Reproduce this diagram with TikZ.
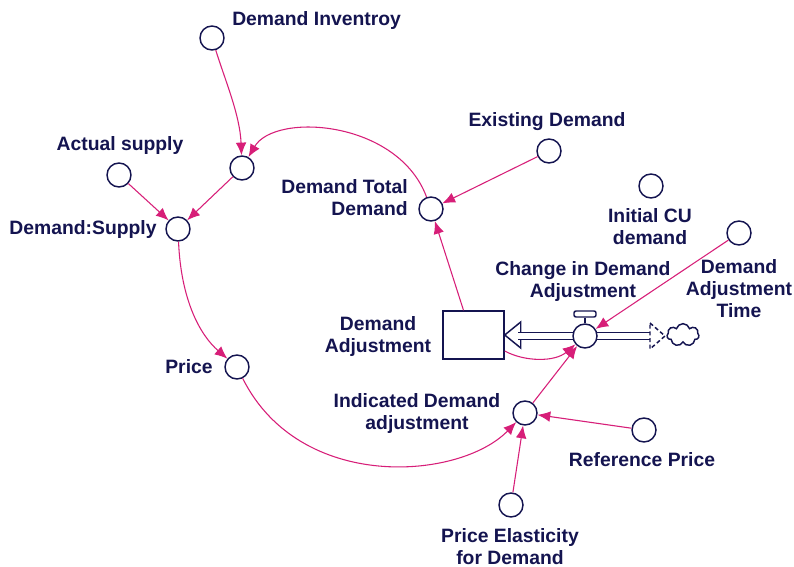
\documentclass[tikz,border=0pt]{standalone}
\usepackage{fontspec}
\setmainfont{Liberation Sans}
\usetikzlibrary{shapes.symbols,arrows.meta}
\definecolor{navy}{RGB}{20,20,80}
\definecolor{lnk}{RGB}{215,30,120}
\begin{document}
\begin{tikzpicture}[x=0.75pt,y=-0.75pt,
  aux/.style={circle,draw=navy,line width=1.1pt,fill=white,minimum size=18pt,inner sep=0pt},
  lbl/.style={font=\fontsize{14.5}{16.5}\selectfont\bfseries,text=navy,align=center,inner sep=0pt},
  link/.style={draw=lnk,line width=0.8pt,-{Latex[length=9.5pt,width=8pt]}},
  pipe/.style={draw=navy,line width=1.1pt,double=white,double distance=3.8pt},
  outl/.style={draw=navy,line width=1.1pt}]
\fill[white] (0,0) rectangle (794,567);
\useasboundingbox (0,0) rectangle (794,567);

% stock, pipe, valve, cloud
\node[outl,fill=white,minimum width=45.75pt,minimum height=36pt,inner sep=0pt] (stock) at (473.5,335) {};
\coordinate (pipestart) at (518,336);
\coordinate (pipeend) at (650,336);
\draw[outl,fill=white] (stock.east) -- ++(16,-13) -- ++(0,26) -- cycle;
\draw[pipe] (pipestart) -- (pipeend);
\draw[outl,dash pattern=on 3pt off 2pt] (650,323) -- (665,336) -- (650,349) -- cycle;
\node[cloud,cloud puffs=7,outl,minimum width=24pt,minimum height=17pt,inner sep=0pt] (cloud) at (683,335) {};
\node[aux] (valve) at (585,336) {};
\node[outl,fill=white,rounded corners=1.5pt,minimum width=16.5pt,minimum height=4.5pt,inner sep=0pt] (handle) at (585,314) {};
\draw[outl] (valve) -- (handle);

% auxiliaries
\node[aux] (inv) at (212,38) {};
\node[aux] (act) at (119,175) {};
\node[aux] (dtc) at (242,168) {};
\node[aux] (ds) at (178,229) {};
\node[aux] (ex) at (549,151) {};
\node[aux] (dtd) at (431,209) {};
\node[aux] (icu) at (651,186) {};
\node[aux] (dat) at (739,233) {};
\node[aux] (price) at (237,367) {};
\node[aux] (ind) at (525,413) {};
\node[aux] (ref) at (644,430) {};
\node[aux] (pe) at (511,505) {};

% links
\draw[link] (inv) .. controls (225,80) and (240,115) .. (dtc);
\draw[link] (act) -- (ds);
\draw[link] (dtc) -- (ds);
\draw[link] (dtd) .. controls (398,120) and (275,112) .. (dtc);
\draw[link] (ds) .. controls (181,300) and (200,335) .. (price);
\draw[link] (price) .. controls (300,493) and (460,480) .. (ind);
\draw[link] ([xshift=-7.5pt]stock.north) -- (dtd);
\draw[link] (ex) -- (dtd);
\draw[link] (dat) -- (valve);
\draw[link] ([yshift=-12pt]stock.east) .. controls (525,362) and (555,362) .. (valve);
\draw[link] (ind) -- (valve);
\draw[link] (ref) -- (ind);
\draw[link] (pe) -- (ind);

% labels
\node[lbl,anchor=west] (tinv) at (232,21) {Demand Inventroy};
\node[lbl] (tact) at (120,146) {Actual supply};
\node[lbl] (tds) at (83,230) {Demand:Supply};
\node[lbl,align=right,anchor=east] (tdtd) at (408,198) {Demand Total\\Demand};
\node[lbl] (tex) at (547,122) {Existing Demand};
\node[lbl] (ticu) at (650,227) {Initial CU\\demand};
\node[lbl] (tdat) at (739,289) {Demand\\Adjustment\\Time};
\node[lbl] (tchg) at (583,282) {Change in Demand\\Adjustment};
\node[lbl] (tstock) at (378,337) {Demand\\Adjustment};
\node[lbl] (tprice) at (189,367) {Price};
\node[lbl] (tind) at (417,414) {Indicated Demand\\adjustment};
\node[lbl] (tref) at (642,460) {Reference Price};
\node[lbl] (tpe) at (510,547) {Price Elasticity\\for Demand};
\end{tikzpicture}
\end{document}
